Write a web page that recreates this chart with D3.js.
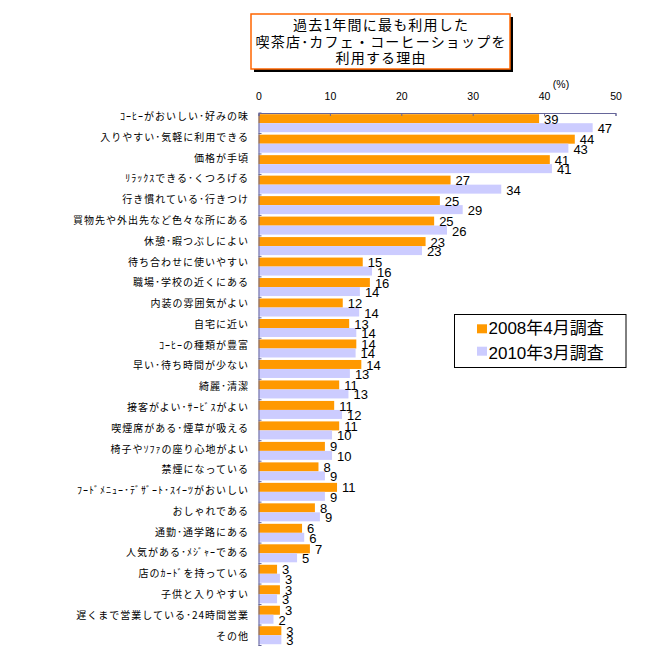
<!DOCTYPE html>
<html><head><meta charset="utf-8">
<script src="https://cdn.jsdelivr.net/npm/d3@7"></script>
<style>
html,body{margin:0;padding:0;background:#fff;}
svg{display:block;}
</style></head>
<body>
<script>
const titleLines = ["過去1年間に最も利用した", "喫茶店･カフェ・コーヒーショップを", "利用する理由"];
const categories = [
  "ｺｰﾋｰがおいしい･好みの味",
  "入りやすい･気軽に利用できる",
  "価格が手頃",
  "ﾘﾗｯｸｽできる･くつろげる",
  "行き慣れている･行きつけ",
  "買物先や外出先など色々な所にある",
  "休憩･暇つぶしによい",
  "待ち合わせに使いやすい",
  "職場･学校の近くにある",
  "内装の雰囲気がよい",
  "自宅に近い",
  "ｺｰﾋｰの種類が豊富",
  "早い･待ち時間が少ない",
  "綺麗･清潔",
  "接客がよい･ｻｰﾋﾞｽがよい",
  "喫煙席がある･煙草が吸える",
  "椅子やｿﾌｧの座り心地がよい",
  "禁煙になっている",
  "ﾌｰﾄﾞﾒﾆｭｰ･ﾃﾞｻﾞｰﾄ･ｽｲｰﾂがおいしい",
  "おしゃれである",
  "通勤･通学路にある",
  "人気がある･ﾒｼﾞｬｰである",
  "店のｶｰﾄﾞを持っている",
  "子供と入りやすい",
  "遅くまで営業している･24時間営業",
  "その他"
];
const values2008 = [39.3,44.3,40.8,26.9,25.4,24.6,23.4,14.6,15.6,11.8,12.7,13.7,14.4,11.3,10.6,11.3,9.3,8.4,11.0,7.9,6.1,7.2,2.6,3.0,3.0,3.2];
const values2010 = [46.8,43.4,41.1,34.0,28.6,26.4,22.9,15.9,14.2,14.1,13.7,13.6,12.8,12.6,11.7,10.3,10.3,9.3,9.3,8.6,6.4,5.4,3.0,2.6,2.1,3.2];
const seriesNames = ["2008年4月調査", "2010年3月調査"];
const seriesColors = ["#FF9900", "#CCCCFF"];
const xTicks = [0,10,20,30,40,50];
const unitLabel = "(%)";

const W = 658, H = 662;
const svg = d3.select("body").append("svg").attr("width", W).attr("height", H);
const axisColor = "#666699";
const cjk = "'Noto Sans CJK JP', 'Noto Sans', sans-serif";
const latin = "'Liberation Sans', 'Noto Sans CJK JP', sans-serif";

const x = d3.scaleLinear().domain([0,50]).range([258.5, 615.5]);
const y = d3.scaleBand().domain(categories).range([113, 645.5]);
const yLab = d3.scalePoint().domain(categories).range([116.5, 636]);
const fmt = d3.format(".0f");

// Title box
const tb = {x:251, y:14, w:259, h:55};
svg.append("rect").attr("x", tb.x+3).attr("y", tb.y+3).attr("width", tb.w).attr("height", tb.h).attr("fill", "#000");
svg.append("rect").attr("x", tb.x).attr("y", tb.y).attr("width", tb.w).attr("height", tb.h)
  .attr("fill", "#fff").attr("stroke", "#FF6600").attr("stroke-width", 1.5);
const tcy = [25, 41.5, 58];
titleLines.forEach((t,i)=>{
  svg.append("text").attr("x", tb.x + tb.w/2 + 0.6).attr("y", tcy[i]).attr("dy", "0.36em")
    .attr("text-anchor", "middle").attr("font-family", cjk).attr("font-size", 14)
    .attr("letter-spacing", 1.2).attr("fill", "#000").text(t);
});

// Bars
const g = svg.append("g");
const barH = 9;
g.selectAll("rect.s1").data(categories).join("rect")
  .attr("x", x(0)).attr("y", d=>y(d)+1.2).attr("width", (d,i)=>x(values2008[i])-x(0)).attr("height", barH)
  .attr("fill", seriesColors[0]);
g.selectAll("rect.s2").data(categories).join("rect")
  .attr("x", x(0)).attr("y", d=>y(d)+10.2).attr("width", (d,i)=>x(values2010[i])-x(0)).attr("height", barH)
  .attr("fill", seriesColors[1]);

// Value labels
g.selectAll("text.v1").data(categories).join("text")
  .attr("x", (d,i)=>x(values2008[i])+5).attr("y", d=>y(d)+10.8)
  .attr("font-family", latin).attr("font-size", 13).attr("fill", "#000")
  .text((d,i)=>fmt(values2008[i]));
g.selectAll("text.v2").data(categories).join("text")
  .attr("x", (d,i)=>x(values2010[i])+5).attr("y", d=>y(d)+20.2)
  .attr("font-family", latin).attr("font-size", 13).attr("fill", "#000")
  .text((d,i)=>fmt(values2010[i]));

// Top axis
const xAxis = d3.axisTop(x).tickValues(xTicks).tickSizeInner(-3).tickSizeOuter(-3).tickPadding(13);
const ax = svg.append("g").attr("transform", "translate(0,113)").call(xAxis);
ax.select(".domain").attr("stroke", axisColor);
ax.selectAll(".tick line").attr("stroke", axisColor);
ax.selectAll(".tick text").attr("font-family", latin).attr("font-size", 10.5).attr("fill", "#000");
svg.append("text").attr("x", 561).attr("y", 88).attr("text-anchor", "middle")
  .attr("font-family", latin).attr("font-size", 10.5).attr("fill", "#000").text(unitLabel);

// Left axis
const yAxis = d3.axisLeft(y).tickValues([]).tickSizeOuter(0);
const ay = svg.append("g").attr("transform", `translate(${x(0)},0)`).call(yAxis);
ay.select(".domain").attr("stroke", axisColor);
svg.selectAll("line.yt").data(categories.concat(["__end"])).join("line")
  .attr("x1", x(0)).attr("x2", x(0)+3)
  .attr("y1", d=> d==="__end" ? y.range()[1] : y(d))
  .attr("y2", d=> d==="__end" ? y.range()[1] : y(d))
  .attr("stroke", axisColor);

// Category labels
svg.selectAll("text.cat").data(categories).join("text")
  .attr("x", 249).attr("y", d=>yLab(d)).attr("dy", "0.36em")
  .attr("text-anchor", "end").attr("font-family", cjk).attr("font-size", 10)
  .attr("letter-spacing", 1).attr("fill", "#000").text(d=>d);

// Legend
svg.append("rect").attr("x", 454.5).attr("y", 314.5).attr("width", 171.5).attr("height", 53)
  .attr("fill", "#fff").attr("stroke", "#000").attr("stroke-width", 1);
const legY = [324.3, 346.7];
const legBase = [333.5, 359];
seriesNames.forEach((n,i)=>{
  svg.append("rect").attr("x", 477).attr("y", legY[i]).attr("width", 10).attr("height", 9).attr("fill", seriesColors[i]);
  svg.append("text").attr("x", 488.5).attr("y", legBase[i]).attr("font-family", latin)
    .attr("font-size", 17).attr("fill", "#000").text(n);
});
</script>
</body></html>
